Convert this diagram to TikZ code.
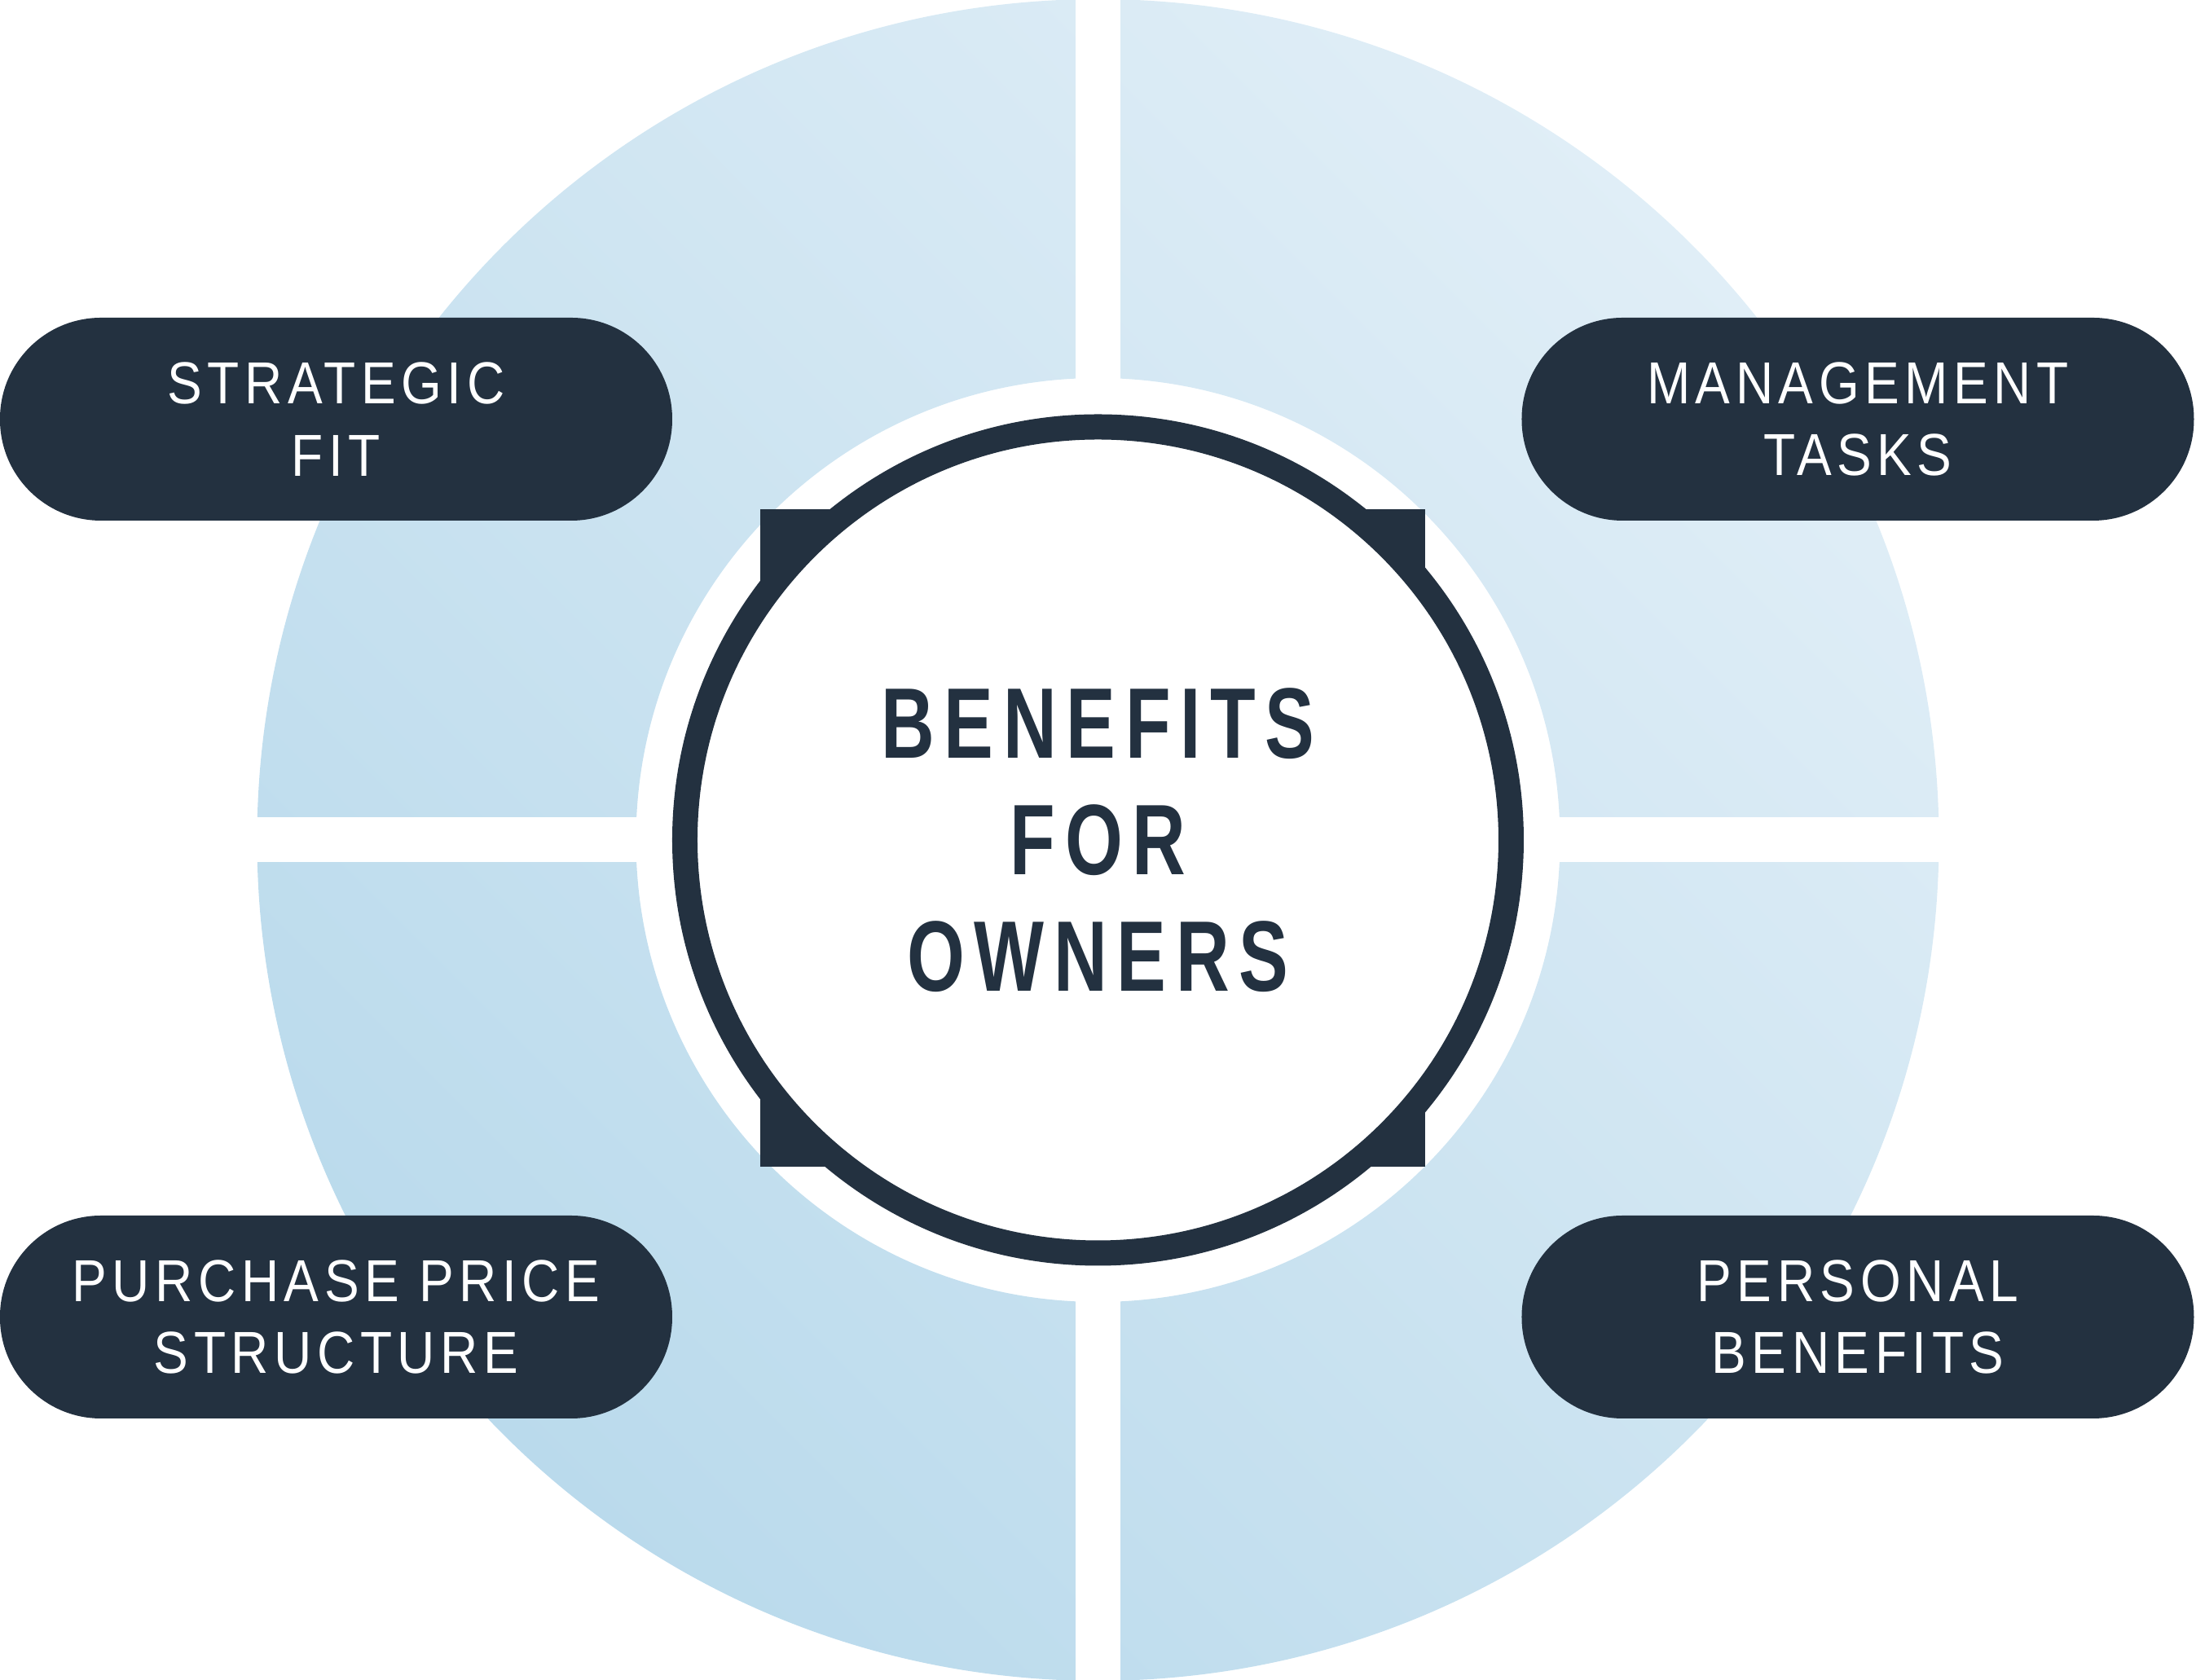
\documentclass[tikz,border=0pt]{standalone}
\usepackage{fontspec}
\usetikzlibrary{shadings}
\setmainfont{Liberation Sans}
\newfontfamily\pillfont[FakeStretch=0.88,LetterSpace=9]{Liberation Sans}
\newfontfamily\hubfont[FakeStretch=0.74,LetterSpace=9.5]{Liberation Sans}
\definecolor{navy}{RGB}{35,49,64}
\definecolor{ringdark}{RGB}{178,214,234}
\definecolor{ringmid}{RGB}{205,228,241}
\definecolor{ringlight}{RGB}{232,242,249}

\begin{document}
\begin{tikzpicture}[
  pill/.style={rectangle,rounded corners=1.24cm,fill=navy,text=white,
    minimum width=8.25cm,minimum height=2.49cm,inner sep=0pt,align=center,
    font=\pillfont\fontsize{20.7}{25.3}\selectfont},
  hub/.style={circle,draw=navy,line width=0.31cm,fill=white,text=navy,
    minimum size=10.14cm,inner sep=0pt,align=center,
    font=\hubfont\bfseries\fontsize{35}{40.6}\selectfont}]

\def\ro{10.32}% outer radius of the ring
\def\ri{5.67}% inner radius of the ring
\useasboundingbox (-13.475,-10.31) rectangle (13.475,10.31);

\shade[even odd rule,lower left=ringdark,upper right=ringlight,
  upper left=ringmid,lower right=ringmid] (0,0) circle (\ro) (0,0) circle (\ri);
\fill[white] (-0.275,-10.6) rectangle (0.275,10.6);% gaps between the quarters
\fill[white] (-10.6,-0.275) rectangle (10.6,0.275);

\fill[navy] (-4.145,-4.01) rectangle (4.015,4.06);% square behind the hub

\node[hub] (owners) at (0,0) {BENEFITS\\FOR\\OWNERS};

\node[pill] (fit) at (-9.35,5.165) {STRATEGIC\\FIT};
\node[pill] (tasks) at (9.325,5.165) {MANAGEMENT\\TASKS};
\node[pill] (price) at (-9.35,-5.855) {PURCHASE PRICE\\STRUCTURE};
\node[pill] (personal) at (9.325,-5.855) {PERSONAL\\BENEFITS};

\end{tikzpicture}
\end{document}
